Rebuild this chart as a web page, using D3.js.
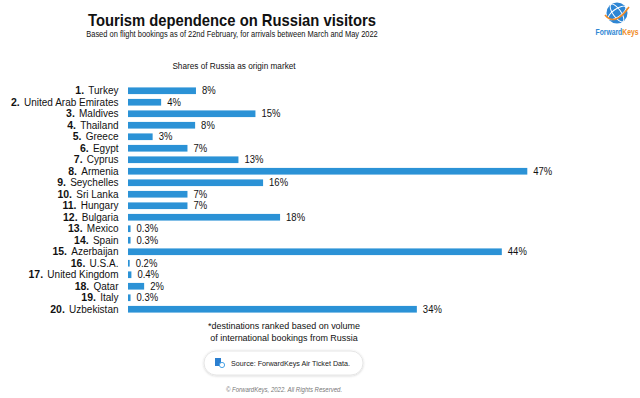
<!DOCTYPE html>
<html>
<head>
<meta charset="utf-8">
<script src="https://cdn.jsdelivr.net/npm/d3@7"></script>
<style>
  body { margin: 0; background: #fff; }
  svg { display: block; font-family: "Liberation Sans", Arial, sans-serif; }
</style>
</head>
<body>
<div id="chart"></div>
<script>
// data
var ranks = ["1.", "2.", "3.", "4.", "5.", "6.", "7.", "8.", "9.", "10.",
             "11.", "12.", "13.", "14.", "15.", "16.", "17.", "18.", "19.", "20."];
var countries = ["Turkey", "United Arab Emirates", "Maldives", "Thailand", "Greece",
                 "Egypt", "Cyprus", "Armenia", "Seychelles", "Sri Lanka",
                 "Hungary", "Bulgaria", "Mexico", "Spain", "Azerbaijan",
                 "U.S.A.", "United Kingdom", "Qatar", "Italy", "Uzbekistan"];
var shares = [8, 3.9, 15, 7.9, 2.9, 7, 13, 47, 15.9, 7,
              7, 17.9, 0.3, 0.3, 44, 0.2, 0.4, 1.9, 0.3, 34];
var shareLabels = ["8%", "4%", "15%", "8%", "3%", "7%", "13%", "47%", "16%", "7%",
                   "7%", "18%", "0.3%", "0.3%", "44%", "0.2%", "0.4%", "2%", "0.3%", "34%"];

var width = 640, height = 398;
var barColor = "#2b92d6";

var svg = d3.select("#chart").append("svg")
  .attr("width", width)
  .attr("height", height);

// the original image text is a bit squeezed horizontally, so text gets scaled in x
function squeezedText(parent, x, y, k) {
  return parent.append("text")
    .attr("transform", "translate(" + x + "," + y + ") scale(" + k + ",1)");
}

// titles
squeezedText(svg, 232, 25.5, 0.87)
  .attr("text-anchor", "middle")
  .style("font-size", "17px").style("font-weight", "bold")
  .style("fill", "#111")
  .text("Tourism dependence on Russian visitors");

squeezedText(svg, 232, 36.5, 0.88)
  .attr("text-anchor", "middle")
  .style("font-size", "8.5px").style("fill", "#111")
  .text("Based on flight bookings as of 22nd February, for arrivals between March and May 2022");

squeezedText(svg, 234, 68.5, 0.865)
  .attr("text-anchor", "middle")
  .style("font-size", "9.5px").style("fill", "#111")
  .text("Shares of Russia as origin market");

// scales
var x = d3.scaleLinear()
  .domain([0, 47])
  .range([128, 527.3]);

var y = d3.scaleBand()
  .domain(countries)
  .range([85, 315])
  .paddingInner(0.42)
  .paddingOuter(0.21);

var rows = countries.map(function(c, i) {
  return { rank: ranks[i], name: c, value: shares[i], label: shareLabels[i] };
});

// bars
svg.selectAll("rect.bar")
  .data(rows)
  .enter()
  .append("rect")
  .attr("class", "bar")
  .attr("x", x(0))
  .attr("y", function(d) { return y(d.name); })
  .attr("width", function(d) { return Math.max(1.5, x(d.value) - x(0)); })
  .attr("height", y.bandwidth())
  .style("fill", barColor);

// category labels, rank in bold
var cat = svg.selectAll("text.cat")
  .data(rows)
  .enter()
  .append("text")
  .attr("class", "cat")
  .attr("x", 118.5)
  .attr("y", function(d) { return y(d.name) + y.bandwidth() / 2; })
  .attr("dy", "0.36em")
  .attr("text-anchor", "end")
  .style("font-size", "10px")
  .style("fill", "#111");

cat.append("tspan")
  .style("font-weight", "bold").style("font-size", "10.5px")
  .text(function(d) { return d.rank; });
cat.append("tspan")
  .attr("dx", 4.2)
  .text(function(d) { return d.name; });

// value labels
svg.selectAll("text.val")
  .data(rows)
  .enter()
  .append("text")
  .attr("class", "val")
  .attr("transform", function(d) {
    var vx = Math.max(x(d.value), x(0) + 1.5) + 6;
    return "translate(" + vx + "," + (y(d.name) + y.bandwidth() / 2) + ") scale(0.95,1)";
  })
  .attr("dy", "0.36em")
  .style("font-size", "10px")
  .style("fill", "#111")
  .text(function(d) { return d.label; });

// footnote
squeezedText(svg, 284, 329, 0.945)
  .attr("text-anchor", "middle")
  .style("font-size", "9.5px").style("fill", "#111")
  .text("*destinations ranked based on volume");
squeezedText(svg, 284, 341, 0.945)
  .attr("text-anchor", "middle")
  .style("font-size", "9.5px").style("fill", "#111")
  .text("of international bookings from Russia");

// source pill
var defs = svg.append("defs");
var shadow = defs.append("filter").attr("id", "pillShadow")
  .attr("x", "-10%").attr("y", "-30%").attr("width", "120%").attr("height", "160%");
shadow.append("feDropShadow")
  .attr("dx", 0).attr("dy", 0.5).attr("stdDeviation", 1.2)
  .attr("flood-color", "#000").attr("flood-opacity", 0.18);

svg.append("rect")
  .attr("x", 204).attr("y", 351)
  .attr("width", 159).attr("height", 24)
  .attr("rx", 12)
  .style("fill", "#fff")
  .style("stroke", "#e6e6e6")
  .style("filter", "url(#pillShadow)");

// little data icon
svg.append("rect")
  .attr("x", 215).attr("y", 358).attr("width", 6).attr("height", 8)
  .style("fill", "#2b7fd0");
svg.append("circle")
  .attr("cx", 222).attr("cy", 365).attr("r", 2.6)
  .style("fill", "#fff").style("stroke", "#4aa3e6").style("stroke-width", 1);

squeezedText(svg, 231, 366, 0.956)
  .style("font-size", "7.5px").style("fill", "#222")
  .text("Source: ForwardKeys Air Ticket Data.");

squeezedText(svg, 284, 392, 0.93)
  .attr("text-anchor", "middle")
  .style("font-size", "6.5px").style("font-style", "italic")
  .style("fill", "#777")
  .text("\u00a9 ForwardKeys, 2022. All Rights Reserved.");

// logo
var logo = svg.append("g").attr("transform", "translate(617,13)");
logo.append("circle").attr("r", 10.5).style("fill", "#2e86d4");
logo.append("ellipse").attr("rx", 10.5).attr("ry", 4).attr("transform", "rotate(-35)")
  .style("fill", "none").style("stroke", "#fff").style("stroke-width", 1);
logo.append("ellipse").attr("rx", 4).attr("ry", 10.5).attr("transform", "rotate(-35)")
  .style("fill", "none").style("stroke", "#fff").style("stroke-width", 1);
logo.append("path")
  .attr("d", "M-12,2 Q-2,14 12,-6")
  .style("fill", "none").style("stroke", "#f08a24").style("stroke-width", 1.6);

var brand = squeezedText(svg, 617, 35, 0.8)
  .attr("text-anchor", "middle")
  .style("font-size", "8.5px").style("font-weight", "bold");
brand.append("tspan").style("fill", "#2e86d4").text("Forward");
brand.append("tspan").style("fill", "#f08a24").text("Keys");
</script>
</body>
</html>
